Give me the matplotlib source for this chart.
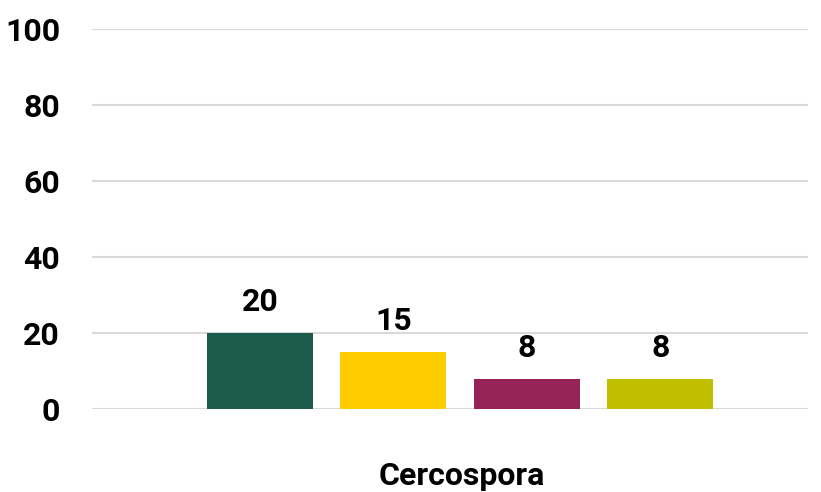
import matplotlib
matplotlib.use("Agg")
import matplotlib.pyplot as plt

plt.rcParams['font.family'] = ['Roboto', 'DejaVu Sans']

category = "Cercospora"
series_values = [20, 15, 8, 8]
bar_colors = ['#1d5b4b', '#ffcc00', '#962355', '#bfbf00']
y_ticks = [0, 20, 40, 60, 80, 100]

fig = plt.figure(figsize=(8.21, 4.92), dpi=100)
ax = fig.add_axes([92/821, 1 - 409/492, 716/821, 380/492])

xpos = list(range(len(series_values)))
ax.bar(xpos, series_values, width=0.794, color=bar_colors, zorder=3)

for x, v in zip(xpos, series_values):
    ax.annotate(str(v), (x, v), xytext=(0, 11.5), textcoords='offset points',
                ha='center', va='bottom', fontsize=23, fontweight='bold')

ax.set_ylim(0, 100)
ax.set_xlim(-1.257, 4.106)
ax.set_yticks(y_ticks)
ax.set_yticklabels([str(t) for t in y_ticks], fontsize=23, fontweight='bold')
ax.yaxis.grid(True, color='#d9d9d9', linewidth=1.5, zorder=0)
ax.set_xticks([])
ax.tick_params(axis='y', length=0, pad=23)
for s in ax.spines.values():
    s.set_visible(False)

fig.text(462/821, 1 - 476/492, category, ha='center', va='center',
         fontsize=23, fontweight='bold')

fig.savefig('out.png', dpi=100)
